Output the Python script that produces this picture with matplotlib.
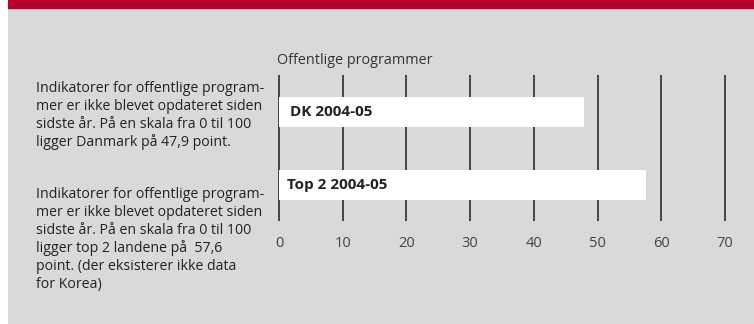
import matplotlib
matplotlib.use("Agg")
import matplotlib.pyplot as plt
from matplotlib.patches import Rectangle

# Data
categories = ["DK 2004-05", "Top 2 2004-05"]
values = [47.9, 57.6]
ticks = [0, 10, 20, 30, 40, 50, 60, 70]
title = "Offentlige programmer"
notes = [
    "Indikatorer for offentlige program-\nmer er ikke blevet opdateret siden\nsidste år. På en skala fra 0 til 100\nligger Danmark på 47,9 point.",
    "Indikatorer for offentlige program-\nmer er ikke blevet opdateret siden\nsidste år. På en skala fra 0 til 100\nligger top 2 landene på  57,6\npoint. (der eksisterer ikke data\nfor Korea)",
]

W, H = 754, 324
plt.rcParams["font.family"] = ["Open Sans", "DejaVu Sans"]
fig = plt.figure(figsize=(W / 100, H / 100), dpi=100)
fig.patch.set_facecolor("white")

def px(x, y, w, h):
    return (x / W, 1 - (y + h) / H, w / W, h / H)

# panel background and red header band
bx, by, bw, bh = px(8, 0, 746, 324)
fig.patches.append(Rectangle((bx, by), bw, bh, transform=fig.transFigure,
                             facecolor="#d8d9db", edgecolor="none", zorder=-3))
rx, ry, rw, rh = px(8, 0, 746, 9)
fig.patches.append(Rectangle((rx, ry), rw, rh, transform=fig.transFigure,
                             facecolor="#b8002f", edgecolor="none", zorder=-2))
lx, ly, lw, lh = px(8, 9, 746, 1)
fig.patches.append(Rectangle((lx, ly), lw, lh, transform=fig.transFigure,
                             facecolor="#dca0ad", edgecolor="none", zorder=-2))

# chart axes
unit = (725 - 279) / 70.0
x0, x1 = -1.0, 71.0
left_px = 279 + x0 * unit
width_px = (x1 - x0) * unit
ax = fig.add_axes(px(left_px, 75, width_px, 146))
ax.set_facecolor("none")
ax.set_xlim(x0, x1)
ax.set_ylim(1.493, -0.507)

ypos = list(range(len(categories)))
for t in ticks:
    ax.axvline(t, color="#1e1e1e", linewidth=1.1, zorder=1)
ax.barh(ypos, values, height=0.404, color="white", edgecolor="none", zorder=2, left=0)
offsets = [1.7, 1.3]
for y, c, o in zip(ypos, categories, offsets):
    ax.text(o, y, c, va="center", ha="left", fontsize=11, fontweight="bold",
            color="#222222", zorder=3)

for s in ax.spines.values():
    s.set_visible(False)
ax.set_yticks([])
ax.set_xticks(ticks)
ax.set_xticklabels([str(t) for t in ticks], fontsize=10.5, color="#444444")
ax.tick_params(axis="x", length=0, pad=11)

fig.text(277 / W, 1 - 60 / H, title, ha="left", va="center", fontsize=10.4, color="#333333")

fig.text(36 / W, 1 - 81 / H, notes[0], ha="left", va="top", fontsize=10.2,
         color="#222222", linespacing=1.25)
fig.text(36 / W, 1 - 187 / H, notes[1], ha="left", va="top", fontsize=10.2,
         color="#222222", linespacing=1.25)

fig.savefig("out.png", dpi=100, facecolor="white")
